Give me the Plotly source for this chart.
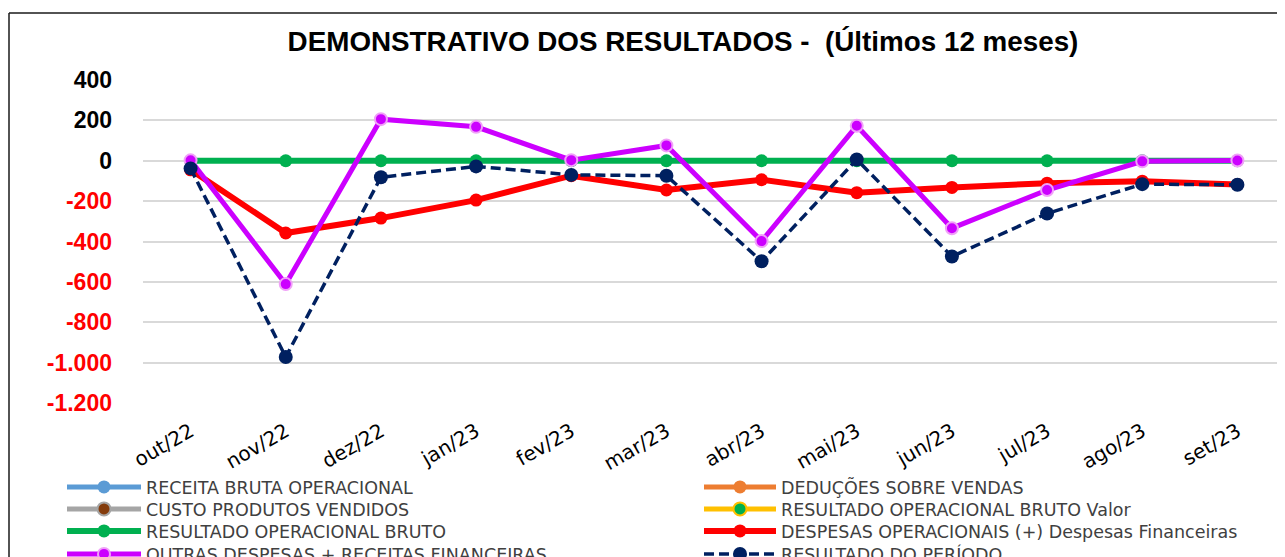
import plotly.graph_objects as go

months = ["out/22", "nov/22", "dez/22", "jan/23", "fev/23", "mar/23",
          "abr/23", "mai/23", "jun/23", "jul/23", "ago/23", "set/23"]

receita_bruta = [None] * 12
deducoes = [None] * 12
custo_produtos = [None] * 12
res_op_bruto_valor = [None] * 12
res_op_bruto = [0, 0, 0, 0, 0, 0, 0, 0, 0, 0, 0, 0]
despesas_oper = [-45, -358, -284, -195, -74, -145, -94, -158, -132, -111, -101, -118]
outras_despesas = [2, -611, 206, 168, 3, 76, -398, 173, -334, -145, -3, 1]
resultado_periodo = [-38, -972, -82, -28, -70, -74, -498, 6, -474, -261, -116, -119]

y_tick_vals = [400, 200, 0, -200, -400, -600, -800, -1000, -1200]
y_tick_labels = ["400", "200", "0", "-200", "-400", "-600", "-800", "-1.000", "-1.200"]

FONT = "DejaVu Sans"
BOLD = "Liberation Sans"

# the page body adds an 8px offset; all layout numbers below are given in
# screenshot pixels and converted to figure coordinates
OFF = 8
W, H = 1285 - OFF, 557 - OFF
L, R, T, B = 143 - OFF, 0, 80 - OFF, H - (403 - OFF)
pw = W - L - R
ph = H - T - B

def px(x):
    return (x - OFF - L) / pw

def py(y):
    return (H - B - (y - OFF)) / ph

fig = go.Figure()

# legend slot (one legend per row, two columns)
slots = {
    "legend": (62, 469), "legend2": (699, 469),
    "legend3": (62, 491), "legend4": (699, 491),
    "legend5": (62, 513), "legend6": (699, 513),
    "legend7": (62, 536), "legend8": (699, 536),
}

def add(name, y, color, width, legend, mcolor=None, mline=None, dash=None, msize=13, mlw=0):
    fig.add_trace(go.Scatter(
        x=months, y=y, name=name, mode="lines+markers", legend=legend,
        line=dict(color=color, width=width, dash=dash),
        marker=dict(color=mcolor or color, size=msize,
                    line=dict(color=mline or (mcolor or color), width=mlw)),
        cliponaxis=False,
    ))

add("RECEITA BRUTA OPERACIONAL", receita_bruta, "#5b9bd5", 5, "legend")
add("DEDUÇÕES SOBRE VENDAS", deducoes, "#ed7d31", 5, "legend2")
add("CUSTO PRODUTOS VENDIDOS", custo_produtos, "#a5a5a5", 5, "legend3",
    mcolor="#843c0c", mline="#a5a5a5", mlw=2)
add("RESULTADO OPERACIONAL BRUTO Valor", res_op_bruto_valor, "#ffc000", 5, "legend4",
    mcolor="#00b050", mline="#ffc000", mlw=2)
add("RESULTADO OPERACIONAL BRUTO", res_op_bruto, "#00b050", 6, "legend5")
add("DESPESAS OPERACIONAIS (+) Despesas Financeiras", despesas_oper, "#ff0000", 6, "legend6")
add("OUTRAS DESPESAS + RECEITAS FINANCEIRAS", outras_despesas, "#cc00ff", 5, "legend7",
    mcolor="#cc00ff", mline="#f0a0f8", msize=12, mlw=2)
add("RESULTADO DO PERÍODO", resultado_periodo, "#002060", 3.5, "legend8",
    dash="10px,5px", msize=14)

ticktext = [t if v >= 0 else f"<span style='color:#ff0000'>{t}</span>"
            for v, t in zip(y_tick_vals, y_tick_labels)]

legends = {}
for key, (lx, ly) in slots.items():
    legends[key] = dict(
        x=px(lx), y=py(ly), xanchor="left", yanchor="top", orientation="v",
        font=dict(family=FONT, size=17.5, color="#404040"),
        bgcolor="rgba(0,0,0,0)", itemwidth=74 if lx < 300 else 72, tracegroupgap=0,
    )

fig.update_layout(
    width=W, height=H,
    margin=dict(l=L, r=R, t=T, b=B, autoexpand=False),
    paper_bgcolor="white", plot_bgcolor="white",
    title=dict(text="DEMONSTRATIVO DOS RESULTADOS -\u00a0 (Últimos 12 meses)",
               x=(683 - OFF) / W, xanchor="center", xref="container",
               y=1 - 33 / H, yanchor="middle", yref="container",
               font=dict(family=BOLD, size=27.8, color="black", weight="bold")),
    xaxis=dict(type="category", range=[-0.5, 11.5], showgrid=False, zeroline=False,
               showline=False, tickangle=-30, ticks="",
               tickfont=dict(family=FONT, size=20, color="black"), ticklabelstandoff=12),
    yaxis=dict(range=[-1200, 400], tickvals=y_tick_vals, ticktext=ticktext,
               showgrid=True, gridcolor="#d9d9d9", gridwidth=2, zeroline=False,
               showline=False, ticks="",
               tickfont=dict(family=BOLD, size=23, color="black", weight="bold"),
               ticklabelstandoff=30),
    shapes=[
        dict(type="line", xref="paper", yref="paper", x0=px(9), x1=px(9), y0=py(600), y1=py(13),
             line=dict(color="#1a1a1a", width=1.5)),
        dict(type="line", xref="paper", yref="paper", x0=px(9), x1=px(1300), y0=py(13), y1=py(13),
             line=dict(color="#1a1a1a", width=1.5)),
    ],
    showlegend=True,
    **legends,
)

fig.write_html("out.html")
